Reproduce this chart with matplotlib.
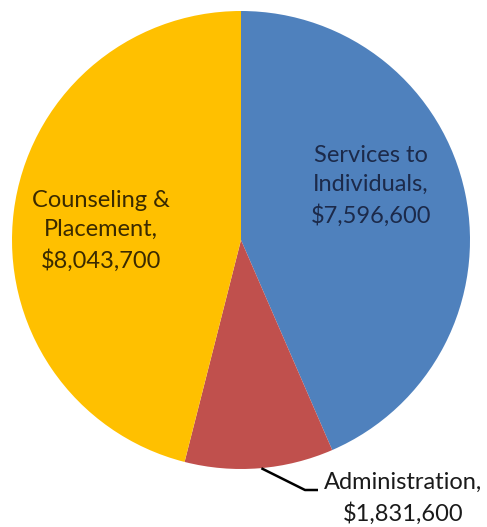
import numpy as np
import matplotlib.pyplot as plt

# budget split (clockwise from 12 o'clock)
categories = ["Services to\nIndividuals,", "Administration,", "Counseling &\nPlacement,"]
amounts = [7596600, 1831600, 8043700]
colors = ["#4F81BD", "#C0504D", "#FFC000"]
text_colors = ["#1c2a4a", "#1a1a1a", "#3a2a00"]

W, H = 487, 527
fig = plt.figure(figsize=(W / 100, H / 100), dpi=100)
ax = fig.add_axes([0, 0, 1, 1])

cx, cy, r = 241, H - 240, 229
wedges, _ = ax.pie(amounts, colors=colors, startangle=90, counterclock=False,
                   center=(cx, cy), radius=r, frame=True)
ax.set_xlim(0, W)
ax.set_ylim(0, H)
ax.set_aspect("equal")
ax.axis("off")

font = dict(family="Lato", fontsize=17, ha="center", va="center", linespacing=1.5)

def lbl(i):
    return f"{categories[i]}\n${amounts[i]:,}"

# inside labels
ax.text(371, H - 186, lbl(0), color=text_colors[0], **font)
ax.text(101, H - 231, lbl(2), color=text_colors[2], **font)

# administration label with leader line from slice edge midpoint
w = wedges[1]
mid = np.deg2rad((w.theta1 + w.theta2) / 2)
x0, y0 = cx + r * np.cos(mid), cy + r * np.sin(mid)
ax.plot([x0 + 2, 305, 318], [y0, H - 490, H - 490], color="black", lw=1.8,
        solid_capstyle="butt")
ax.text(403, H - 498, lbl(1), color=text_colors[1], **font)

fig.savefig("out.png", dpi=100)
